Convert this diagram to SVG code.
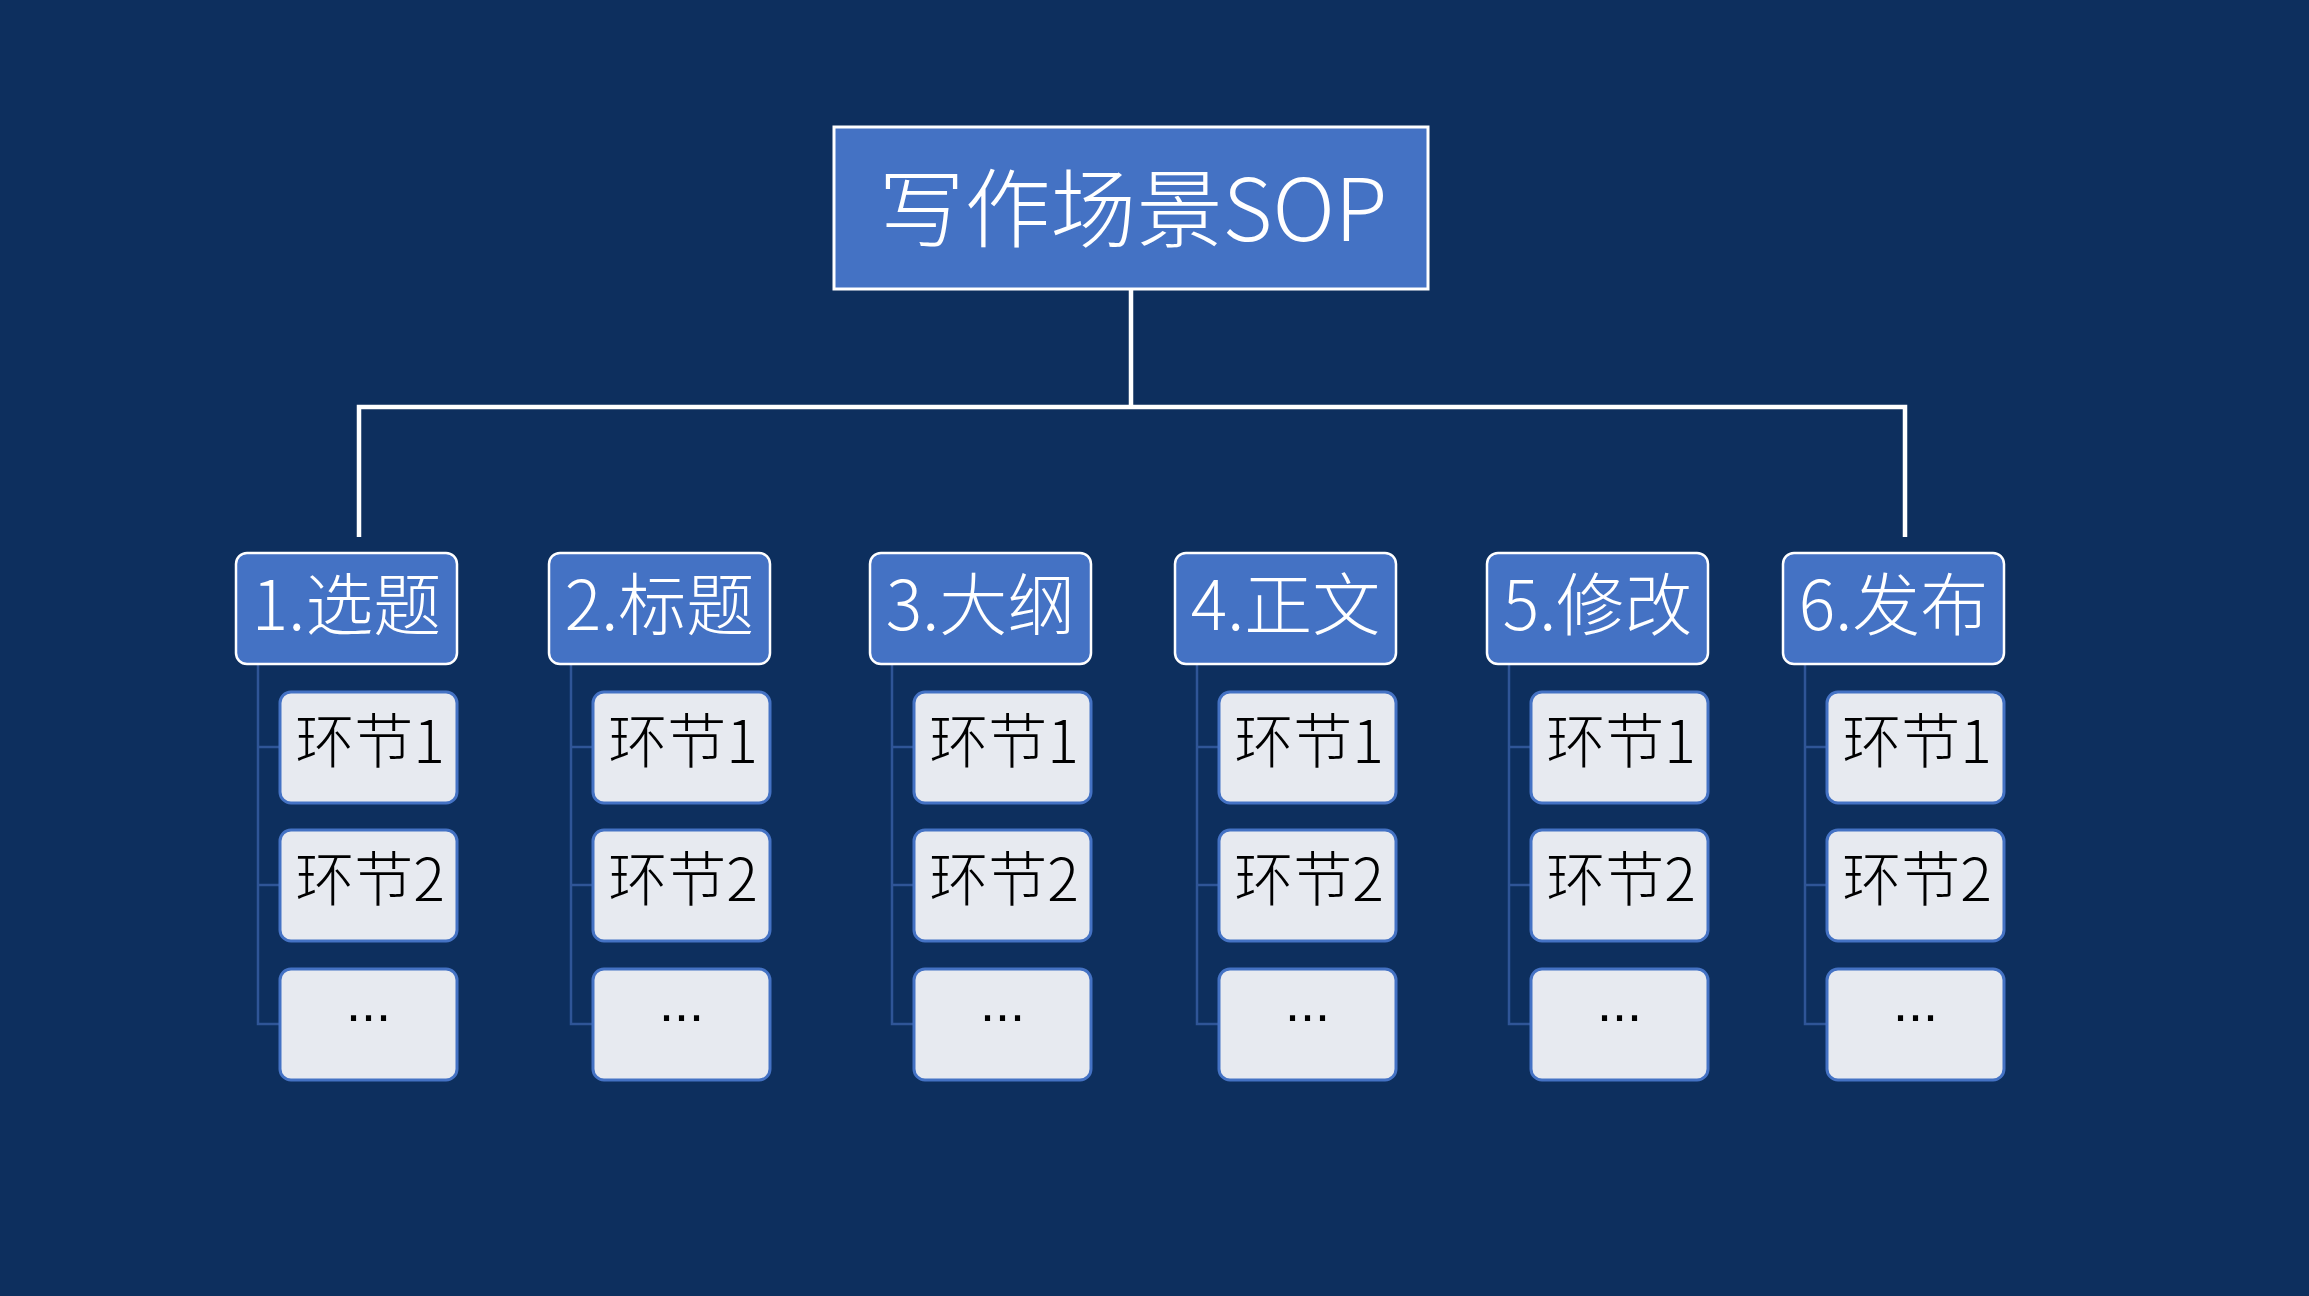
<svg xmlns="http://www.w3.org/2000/svg" width="2309" height="1296" viewBox="0 0 2309 1296">
<style>
.bg{fill:#0D2F5E}
.root{fill:#4472C4;stroke:#FFFFFF;stroke-width:3}
.cat{fill:#4472C4;stroke:#FFFFFF;stroke-width:2.5}
.item{fill:#E7EAF0;stroke:#4472C4;stroke-width:3}
.main{fill:none;stroke:#FFFFFF;stroke-width:4.5}
.tree{fill:none;stroke:#2F5597;stroke-width:2.5}
text{font-family:"Noto Sans CJK SC","Microsoft YaHei","Noto Sans",sans-serif;font-weight:300;text-anchor:middle}
.tRoot{font-size:86px;fill:#FFFFFF}
.tCat{font-size:68px;fill:#FFFFFF}
.tItem{font-size:59px;fill:#000000}
.tDots{font-family:"Liberation Sans",Arial,sans-serif;font-size:54px;fill:#000000}
</style>
<rect class="bg" x="0" y="0" width="2309" height="1296"/>
<g id="connectors">
<path class="main" d="M1131 289 V407 M359 537 V407 H1905 V537"/>
<path class="tree" d="M258 664 V1024 H280 M258 747 H280 M258 885 H280"/>
<path class="tree" d="M571 664 V1024 H593 M571 747 H593 M571 885 H593"/>
<path class="tree" d="M892 664 V1024 H914 M892 747 H914 M892 885 H914"/>
<path class="tree" d="M1197 664 V1024 H1219 M1197 747 H1219 M1197 885 H1219"/>
<path class="tree" d="M1509 664 V1024 H1531 M1509 747 H1531 M1509 885 H1531"/>
<path class="tree" d="M1805 664 V1024 H1827 M1805 747 H1827 M1805 885 H1827"/>
</g>
<g id="root">
<rect class="root" x="834" y="127" width="594" height="162"/>
<text class="tRoot" x="1133" y="241">写作场景SOP</text>
</g>
<g id="cat1"><rect class="cat" x="236" y="553" width="221" height="111" rx="11"/><text class="tCat" x="346.5" y="630">1.选题</text></g>
<g id="cat2"><rect class="cat" x="549" y="553" width="221" height="111" rx="11"/><text class="tCat" x="659.5" y="630">2.标题</text></g>
<g id="cat3"><rect class="cat" x="870" y="553" width="221" height="111" rx="11"/><text class="tCat" x="980.5" y="630">3.大纲</text></g>
<g id="cat4"><rect class="cat" x="1175" y="553" width="221" height="111" rx="11"/><text class="tCat" x="1285.5" y="630">4.正文</text></g>
<g id="cat5"><rect class="cat" x="1487" y="553" width="221" height="111" rx="11"/><text class="tCat" x="1597.5" y="630">5.修改</text></g>
<g id="cat6"><rect class="cat" x="1783" y="553" width="221" height="111" rx="11"/><text class="tCat" x="1893.5" y="630">6.发布</text></g>
<g id="c1a"><rect class="item" x="280" y="692" width="177" height="111" rx="11"/><text class="tItem" x="370" y="763">环节1</text></g>
<g id="c1b"><rect class="item" x="280" y="830" width="177" height="111" rx="11"/><text class="tItem" x="370" y="901">环节2</text></g>
<g id="c1c"><rect class="item" x="280" y="969" width="177" height="111" rx="11"/><text class="tDots" x="368.5" y="1021">...</text></g>
<g id="c2a"><rect class="item" x="593" y="692" width="177" height="111" rx="11"/><text class="tItem" x="683" y="763">环节1</text></g>
<g id="c2b"><rect class="item" x="593" y="830" width="177" height="111" rx="11"/><text class="tItem" x="683" y="901">环节2</text></g>
<g id="c2c"><rect class="item" x="593" y="969" width="177" height="111" rx="11"/><text class="tDots" x="681.5" y="1021">...</text></g>
<g id="c3a"><rect class="item" x="914" y="692" width="177" height="111" rx="11"/><text class="tItem" x="1004" y="763">环节1</text></g>
<g id="c3b"><rect class="item" x="914" y="830" width="177" height="111" rx="11"/><text class="tItem" x="1004" y="901">环节2</text></g>
<g id="c3c"><rect class="item" x="914" y="969" width="177" height="111" rx="11"/><text class="tDots" x="1002.5" y="1021">...</text></g>
<g id="c4a"><rect class="item" x="1219" y="692" width="177" height="111" rx="11"/><text class="tItem" x="1309" y="763">环节1</text></g>
<g id="c4b"><rect class="item" x="1219" y="830" width="177" height="111" rx="11"/><text class="tItem" x="1309" y="901">环节2</text></g>
<g id="c4c"><rect class="item" x="1219" y="969" width="177" height="111" rx="11"/><text class="tDots" x="1307.5" y="1021">...</text></g>
<g id="c5a"><rect class="item" x="1531" y="692" width="177" height="111" rx="11"/><text class="tItem" x="1621" y="763">环节1</text></g>
<g id="c5b"><rect class="item" x="1531" y="830" width="177" height="111" rx="11"/><text class="tItem" x="1621" y="901">环节2</text></g>
<g id="c5c"><rect class="item" x="1531" y="969" width="177" height="111" rx="11"/><text class="tDots" x="1619.5" y="1021">...</text></g>
<g id="c6a"><rect class="item" x="1827" y="692" width="177" height="111" rx="11"/><text class="tItem" x="1917" y="763">环节1</text></g>
<g id="c6b"><rect class="item" x="1827" y="830" width="177" height="111" rx="11"/><text class="tItem" x="1917" y="901">环节2</text></g>
<g id="c6c"><rect class="item" x="1827" y="969" width="177" height="111" rx="11"/><text class="tDots" x="1915.5" y="1021">...</text></g>
</svg>
